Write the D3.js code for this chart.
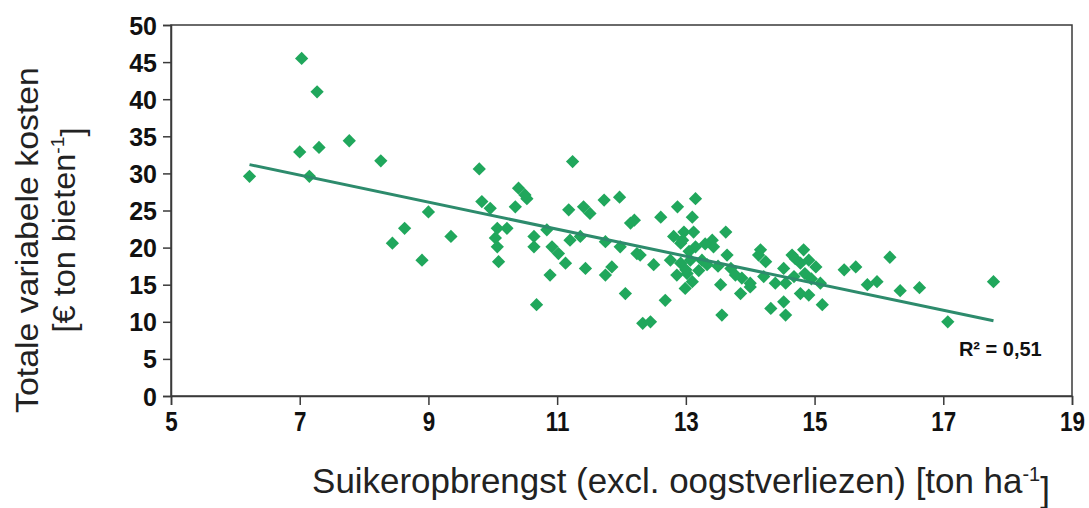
<!DOCTYPE html>
<html>
<head>
<meta charset="utf-8">
<script src="https://cdn.jsdelivr.net/npm/d3@7"></script>
<style>
  body { margin: 0; background: #fff; }
  .frame { fill: none; stroke: #3a3a3a; stroke-width: 1.5; }
  .axis path, .axis line { stroke: #3a3a3a; stroke-width: 1.5; }
  .ytick text { font-family: "Liberation Sans", Arial, sans-serif; font-weight: bold; font-size: 25px; fill: #111; }
  .xtick text { font-family: "Liberation Sans", Arial, sans-serif; font-weight: bold; font-size: 28px; fill: #111; }
  .title { font-family: "Liberation Sans", Arial, sans-serif; font-size: 32px; fill: #222; }
  .xtitle { font-size: 35px; }
  .point { fill: #20a75c; }
  .trend { stroke: #2d8b6c; stroke-width: 3; fill: none; }
  .rsq { font-family: "Liberation Sans", Arial, sans-serif; font-weight: bold; font-size: 20px; fill: #111; }
</style>
</head>
<body>
<div id="chart"></div>
<script>
// suikeropbrengst [ton/ha]
var xValues = [6.22, 7.03, 7.27, 7.0, 7.30, 7.77, 8.26, 7.15, 8.63, 8.44, 8.90,
  9.79, 9.83, 9.96, 9.0, 10.40, 10.53, 10.35, 9.35, 10.07, 10.22, 10.04, 10.07, 10.09,
  10.64, 10.64, 10.68, 10.5,
  11.24, 11.18, 11.41, 11.51, 11.73, 11.97, 12.14, 12.2, 10.84, 10.92, 11.02, 11.13, 11.20,
  11.36, 11.75, 11.98, 12.24, 11.44, 11.85, 11.75, 10.89, 12.06, 12.33, 12.45,
  13.15, 12.87, 12.61, 13.10, 12.81, 12.97, 13.12, 12.92, 13.15, 13.41, 13.62, 13.43,
  13.64, 12.50, 12.29, 12.76, 12.92, 13.07, 13.25, 13.33, 12.86, 13.02, 12.99, 13.10,
  13.54, 13.77, 13.87, 14.00, 13.85, 12.68, 13.56, 13.0, 13.2, 13.05, 12.95, 13.5, 13.7, 13.3,
  14.13, 14.16, 14.24, 14.00, 14.21, 14.39, 14.52, 14.65, 14.83, 14.78, 14.91, 15.02,
  14.68, 14.55, 14.78, 14.91, 14.52, 14.32, 14.55, 15.12, 15.09, 14.85, 14.7, 14.95,
  15.46, 15.64, 15.82, 16.17, 15.97, 16.33, 16.63, 17.78, 17.07];

// totale variabele kosten [euro/ton bieten]
var yValues = [29.6, 45.5, 41.0, 32.9, 33.5, 34.4, 31.7, 29.6, 22.6, 20.6, 18.3,
  30.6, 26.2, 25.3, 24.8, 28.0, 26.6, 25.5, 21.5, 22.6, 22.6, 21.3, 20.1, 18.1,
  21.5, 20.1, 12.3, 27.1,
  31.6, 25.1, 25.5, 24.6, 26.4, 26.8, 23.3, 23.7, 22.4, 20.1, 19.2, 17.9, 21.0,
  21.5, 20.8, 20.1, 19.2, 17.2, 17.4, 16.3, 16.3, 13.8, 9.8, 10.0,
  26.6, 25.5, 24.1, 24.1, 21.5, 22.1, 22.1, 20.6, 20.1, 21.0, 22.1, 20.1,
  19.0, 17.7, 19.0, 18.3, 17.9, 18.3, 18.3, 17.7, 16.3, 16.5, 14.5, 15.4,
  15.0, 16.3, 15.9, 15.2, 13.8, 12.9, 10.9, 17.0, 16.9, 19.5, 21.0, 17.5, 17.2, 20.5,
  19.0, 19.7, 18.1, 14.7, 16.1, 15.2, 17.2, 19.0, 19.7, 17.9, 18.3, 17.4,
  16.1, 15.2, 13.8, 13.6, 12.7, 11.8, 10.9, 12.3, 15.2, 16.5, 18.5, 15.8,
  17.0, 17.4, 15.0, 18.7, 15.4, 14.2, 14.6, 15.4, 10.0];

var xTicks = [5, 7, 9, 11, 13, 15, 17, 19];
var yTicks = [0, 5, 10, 15, 20, 25, 30, 35, 40, 45, 50];

var trendSlope = -1.82;
var trendIntercept = 42.5;
var rSquaredLabel = "R² = 0,51";

function init() {
    var w = 1089;
    var h = 508;

    var left = 171, right = 1072, top = 25, bottom = 396;

    var dataset = xValues.map(function (x, i) {
        return { x: x, y: yValues[i] };
    });

    var xScale = d3.scaleLinear().domain([5, 19]).range([left, right]);
    var yScale = d3.scaleLinear().domain([0, 50]).range([bottom, top]);

    var svg = d3.select("#chart")
        .append("svg")
        .attr("width", w)
        .attr("height", h);

    // plot frame
    svg.append("rect")
        .attr("class", "frame")
        .attr("x", left)
        .attr("y", top)
        .attr("width", right - left)
        .attr("height", bottom - top);

    var xAxis = d3.axisBottom(xScale)
        .tickValues(xTicks)
        .tickSize(9)
        .tickPadding(6)
        .tickFormat(d3.format("d"));

    var yAxis = d3.axisLeft(yScale)
        .tickValues(yTicks)
        .tickSize(8)
        .tickPadding(6)
        .tickFormat(d3.format("d"));

    svg.append("g")
        .attr("class", "axis xtick")
        .attr("transform", "translate(0," + bottom + ")")
        .call(xAxis);

    svg.append("g")
        .attr("class", "axis ytick")
        .attr("transform", "translate(" + left + ",0)")
        .call(yAxis);

    svg.selectAll(".ytick text").attr("dy", "0.36em");

    // narrow look of the x tick labels
    svg.selectAll(".xtick .tick text")
        .attr("transform", "scale(0.8,1)")
        .attr("dy", "0.7em");

    // points (diamonds)
    var diamond = d3.symbol().type(d3.symbolSquare).size(88);
    svg.selectAll(".point")
        .data(dataset)
        .enter()
        .append("path")
        .attr("class", "point")
        .attr("d", diamond)
        .attr("transform", function (d) {
            return "translate(" + xScale(d.x) + "," + yScale(d.y) + ") rotate(45)";
        });

    // trend line over the data range
    var xMin = d3.min(xValues), xMax = d3.max(xValues);
    var trend = [xMin, xMax].map(function (x) {
        return { x: x, y: trendSlope * x + trendIntercept };
    });
    var line = d3.line()
        .x(function (d) { return xScale(d.x); })
        .y(function (d) { return yScale(d.y); });
    svg.append("path")
        .datum(trend)
        .attr("class", "trend")
        .attr("d", line);

    svg.append("text")
        .attr("class", "rsq")
        .attr("x", xScale(18.53))
        .attr("y", yScale(5.4))
        .attr("text-anchor", "end")
        .text(rSquaredLabel);

    // x axis title, squeezed to the width of the original
    var xg = svg.append("g");
    var xt = xg.append("text")
        .attr("class", "title xtitle")
        .attr("text-anchor", "middle");
    xt.append("tspan").text("Suikeropbrengst (excl. oogstverliezen) [ton ha");
    xt.append("tspan").attr("dy", "-0.6em").attr("font-size", "20px").text("-1");
    xt.append("tspan").attr("dy", "0.6em").text("]");
    var xw = xt.node().getBBox().width;
    xg.attr("transform", "translate(681,493) scale(" + (738 / xw) + ",1)");

    // y axis title, two lines
    var yt = svg.append("g")
        .attr("transform", "translate(38,240) rotate(-90)");
    var yt1 = yt.append("text")
        .attr("class", "title")
        .attr("text-anchor", "middle")
        .text("Totale variabele kosten");
    var yw = yt1.node().getBBox().width;
    yt1.attr("transform", "scale(" + (346 / yw) + ",1)");
    var yt2 = yt.append("text")
        .attr("class", "title")
        .attr("y", 37)
        .attr("text-anchor", "middle");
    yt2.append("tspan").text("[€ ton bieten");
    yt2.append("tspan").attr("dy", "-0.6em").attr("font-size", "19px").text("-1");
    yt2.append("tspan").attr("dy", "0.6em").text("]");
    var yw2 = yt2.node().getBBox().width;
    yt2.attr("transform", "translate(10,0) scale(" + (205 / yw2) + ",1)");
}

window.onload = init;
</script>
</body>
</html>
